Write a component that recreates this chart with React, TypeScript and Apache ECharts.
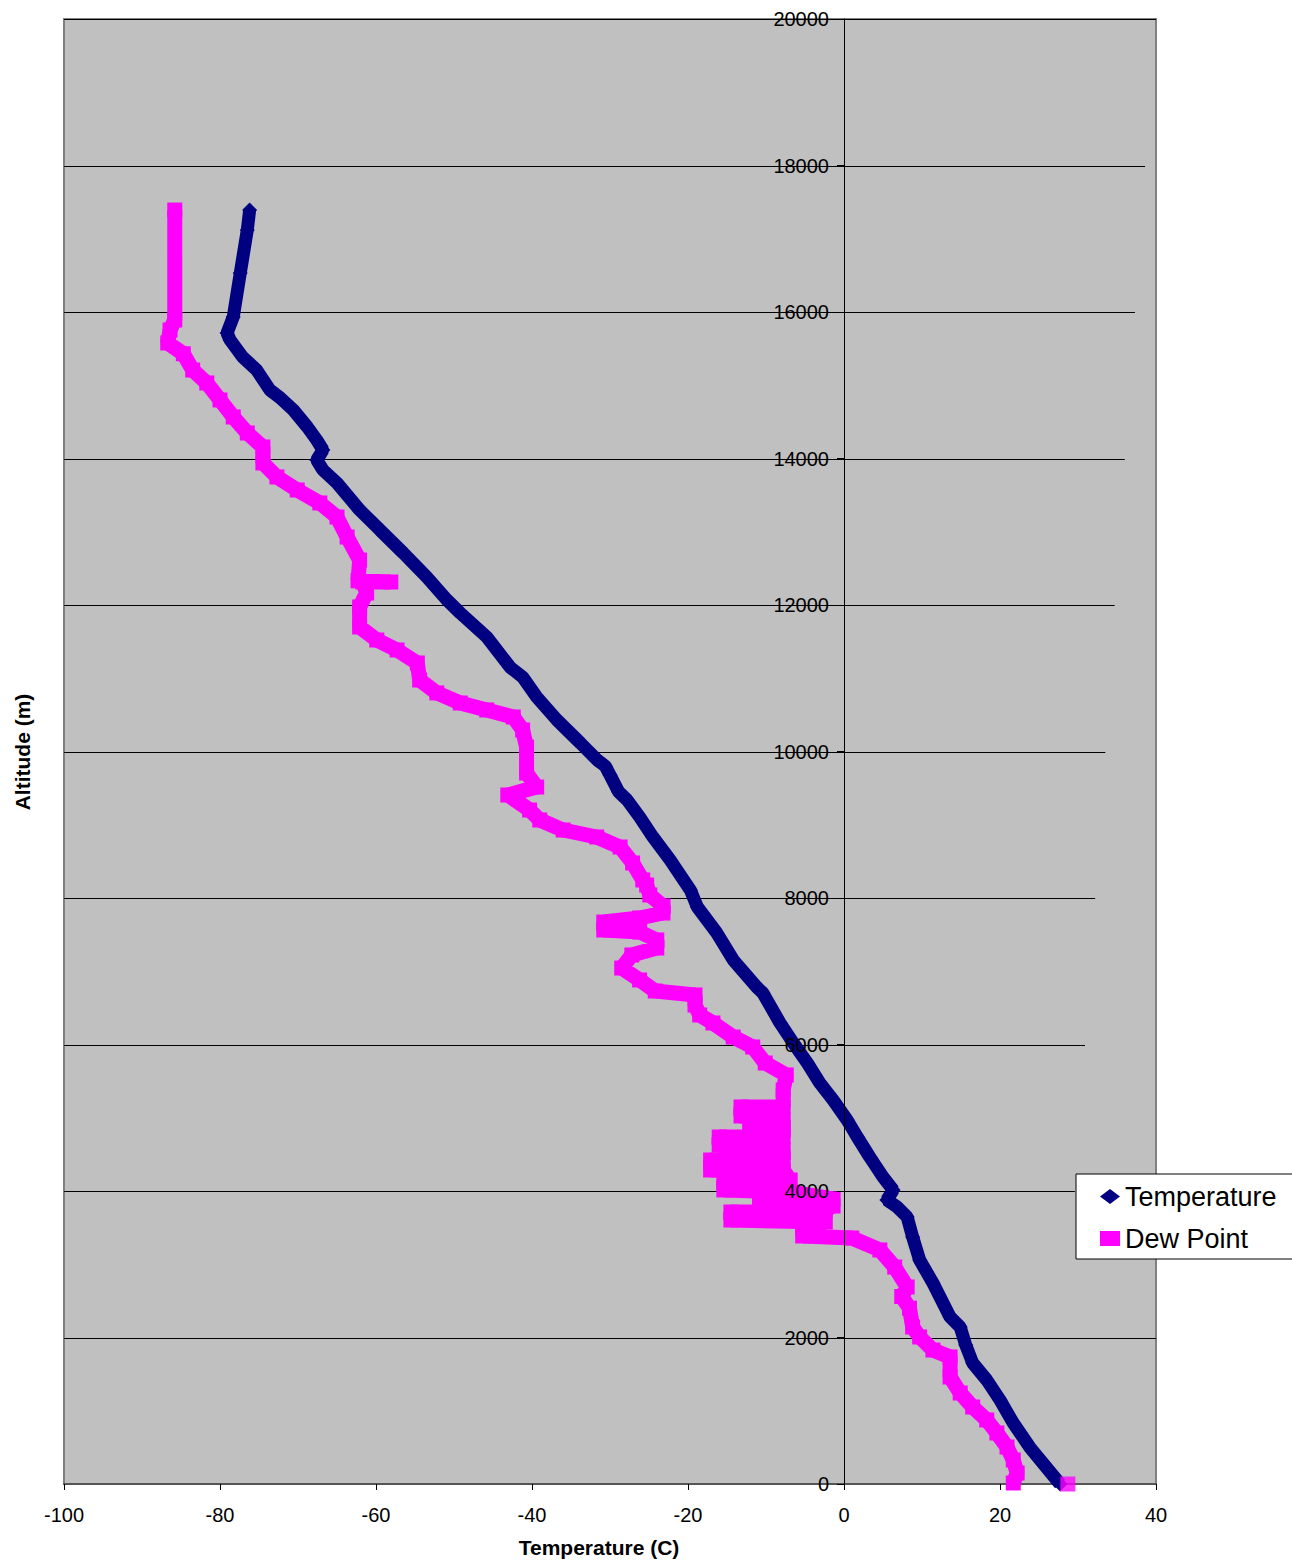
import { useEffect, useRef } from 'react';
import * as echarts from 'echarts';

// Axis ticks
const xMin = -100;
const xMax = 40;
const xStep = 20;
const yMin = 0;
const yMax = 20000;
const yStep = 2000;

// Temperature (C) vs altitude (m)
const temperature: [number, number][] = [
  [27.7, 0], [23.8, 505], [21.7, 833], [20.0, 1147], [18.3, 1420], [16.5, 1652],
  [15.6, 1898], [14.9, 2143], [13.6, 2280], [11.4, 2744], [9.7, 3058], [8.8, 3372],
  [8.1, 3645], [6.8, 3782], [5.5, 3877], [6.3, 4014], [5.0, 4191], [3.3, 4464],
  [1.7, 4737], [0.4, 4969], [-1.4, 5242], [-3.1, 5474], [-4.7, 5747], [-6.5, 6020],
  [-8.2, 6294], [-10.4, 6703], [-11.2, 6785], [-14.2, 7154], [-16.3, 7522], [-18.8, 7877],
  [-19.7, 8109], [-22.3, 8519], [-24.5, 8833], [-26.2, 9106], [-27.8, 9338], [-28.9, 9450],
  [-30.0, 9680], [-30.6, 9800], [-31.6, 9880], [-33.8, 10116], [-36.8, 10430], [-39.4, 10744],
  [-41.2, 11017], [-42.8, 11150], [-45.8, 11563], [-49.2, 11891], [-50.9, 12068], [-53.5, 12382],
  [-56.5, 12710], [-59.5, 13024], [-62.1, 13297], [-65.0, 13666], [-66.8, 13843], [-67.6, 13980],
  [-66.8, 14116], [-67.6, 14253], [-68.8, 14430], [-70.6, 14662], [-72.3, 14830], [-73.6, 14935],
  [-75.3, 15208], [-77.1, 15386], [-78.7, 15618], [-79.1, 15713], [-78.3, 15932], [-77.4, 16532],
  [-76.5, 17119], [-76.2, 17392],
];

// Dew point (C) vs altitude (m)
const dewPoint: [number, number][] = [
  [21.7, 14], [22.2, 150], [21.7, 328], [20.9, 505], [19.6, 696], [18.3, 874],
  [16.5, 1051], [14.9, 1242], [13.6, 1461], [13.6, 1734], [11.4, 1829], [9.7, 2007],
  [8.8, 2143], [8.4, 2400], [7.4, 2560], [8.1, 2689], [6.5, 2962], [4.6, 3195],
  [1.0, 3358], [-5.3, 3386], [-5.3, 3522], [-2.4, 3577], [-14.5, 3604], [-14.5, 3713],
  [-2.4, 3741], [-1.4, 3795], [-10.8, 3795], [-10.8, 3891], [-1.4, 3891], [-6.9, 3986],
  [-15.4, 4014], [-15.4, 4150], [-6.9, 4150], [-7.8, 4287], [-17.1, 4287], [-17.1, 4423],
  [-7.8, 4423], [-7.8, 4560], [-16.0, 4628], [-16.0, 4737], [-7.8, 4737], [-7.8, 4874],
  [-12.1, 4874], [-7.8, 4969], [-13.2, 5024], [-13.2, 5147], [-7.8, 5147], [-7.8, 5379],
  [-7.4, 5584], [-10.1, 5747], [-11.7, 5966], [-14.2, 6102], [-16.8, 6294], [-18.5, 6403],
  [-19.1, 6539], [-19.1, 6676], [-24.2, 6730], [-26.2, 6881], [-28.5, 7044], [-27.2, 7222],
  [-24.0, 7317], [-24.0, 7427], [-26.2, 7536], [-30.8, 7563], [-30.8, 7672], [-26.2, 7727],
  [-23.2, 7795], [-23.2, 7891], [-24.9, 8041], [-25.3, 8177], [-25.8, 8246], [-27.1, 8478],
  [-28.7, 8696], [-31.7, 8833], [-36.0, 8928], [-39.0, 9065], [-40.3, 9201], [-43.1, 9406],
  [-39.4, 9515], [-40.7, 9706], [-40.7, 10061], [-41.2, 10294], [-42.4, 10471], [-45.8, 10567],
  [-49.2, 10662], [-52.2, 10799], [-54.4, 10976], [-54.7, 11208], [-57.3, 11386], [-59.9, 11522],
  [-62.1, 11700], [-62.1, 11973], [-61.2, 12164], [-61.7, 12314], [-58.1, 12314], [-62.3, 12330],
  [-62.1, 12614], [-63.7, 12928], [-65.0, 13201], [-67.2, 13393], [-70.1, 13570], [-72.7, 13748],
  [-74.5, 13939], [-74.5, 14157], [-76.5, 14348], [-78.3, 14567], [-80.0, 14799], [-81.7, 15031],
  [-83.5, 15208], [-84.7, 15430], [-86.7, 15577], [-86.4, 15754], [-85.8, 15891], [-85.8, 17392],
];

// Isolated surface reading of the dew point series
const dewPointSurface: [number, number][] = [[28.7, 0]];

// Horizontal gridlines (altitude) and where each one stops on the temperature axis
const gridAltitudes = [2000, 4000, 6000, 8000, 10000, 12000, 14000, 16000, 18000, 20000];
const gridLineEnds = [40, 29.6, 30.9, 32.2, 33.5, 34.7, 36.0, 37.3, 38.6, 40];

const legendItems = ['Temperature', 'Dew Point'];
const xTitle = 'Temperature (C)';
const yTitle = 'Altitude (m)';

const FONT = "'Liberation Sans', Arial, sans-serif";

const GRID_LEFT = 64;
const GRID_RIGHT = 136;
const CHART_W = 1292;
const CHART_H = 1566;

export default function App() {
  const ref = useRef<HTMLDivElement>(null);

  useEffect(() => {
    document.body.style.margin = '0';
    const chart = echarts.init(ref.current!, undefined, { renderer: 'svg' });
    // the vertical axis sits where temperature = 0
    const plotW = CHART_W - GRID_LEFT - GRID_RIGHT;
    const yAxisShift = ((0 - xMin) / (xMax - xMin)) * plotW;
    chart.setOption({
      animation: false,
      backgroundColor: '#ffffff',
      textStyle: { fontFamily: FONT },
      grid: {
        left: GRID_LEFT,
        right: GRID_RIGHT,
        top: 19,
        bottom: 82,
        containLabel: false,
        outerBoundsMode: 'none',
        show: true,
        backgroundColor: '#C0C0C0',
        borderColor: '#808080',
        borderWidth: 2,
      },
      xAxis: {
        type: 'value',
        min: xMin,
        max: xMax,
        interval: xStep,
        axisLine: { show: true, onZero: false, lineStyle: { color: '#555555', width: 2 } },
        axisTick: { show: true, length: 6, lineStyle: { color: '#000000' } },
        axisLabel: { margin: 21, fontSize: 20, color: '#000000', fontFamily: FONT },
        splitLine: { show: false },
      },
      yAxis: {
        type: 'value',
        min: yMin,
        max: yMax,
        interval: yStep,
        position: 'left',
        offset: -yAxisShift,
        z: 10,
        axisLine: { show: true, onZero: false, lineStyle: { color: '#000000', width: 1 } },
        axisTick: { show: true, length: 7, lineStyle: { color: '#000000' } },
        axisLabel: {
          margin: 15,
          fontSize: 20,
          color: '#000000',
          fontFamily: FONT,
          formatter: (v: number) => String(v),
        },
        splitLine: { show: false },
      },
      legend: {
        data: [
          { name: legendItems[0], icon: 'diamond' },
          { name: legendItems[1], icon: 'rect' },
        ],
        orient: 'vertical',
        left: 1076,
        top: 1174,
        itemWidth: 20,
        itemHeight: 15,
        itemGap: 15,
        padding: [9, 20, 7, 24],
        backgroundColor: '#ffffff',
        borderColor: '#000000',
        borderWidth: 1,
        selectedMode: false,
        textStyle: { fontSize: 27, lineHeight: 26, color: '#000000', fontFamily: FONT },
      },
      graphic: [
        {
          type: 'text',
          x: 599,
          y: 1547,
          style: {
            text: xTitle,
            font: `bold 21px ${FONT}`,
            fill: '#000000',
            textAlign: 'center',
            textVerticalAlign: 'middle',
          },
        },
        {
          type: 'text',
          x: 22,
          y: 752,
          rotation: Math.PI / 2,
          style: {
            text: yTitle,
            font: `bold 21px ${FONT}`,
            fill: '#000000',
            textAlign: 'center',
            textVerticalAlign: 'middle',
          },
        },
      ],
      series: [
        {
          type: 'custom',
          name: 'gridlines',
          silent: true,
          data: gridAltitudes.map((a, i) => [gridLineEnds[i], a]),
          encode: { x: 0, y: 1 },
          renderItem: (_params: any, api: any) => {
            const alt = api.value(1);
            const end = api.value(0);
            const p0 = api.coord([xMin, alt]);
            const p1 = api.coord([end, alt]);
            const y = Math.round(p0[1]) + 0.5;
            return {
              type: 'line',
              shape: { x1: p0[0], y1: y, x2: p1[0], y2: y },
              style: { stroke: '#000000', lineWidth: 1 },
            };
          },
          z: 1,
        },
        {
          type: 'line',
          name: legendItems[0],
          data: temperature,
          symbol: 'diamond',
          symbolSize: 15,
          showSymbol: true,
          lineStyle: { color: '#000080', width: 13, join: 'bevel' },
          itemStyle: { color: '#000080' },
          emphasis: { disabled: true },
          z: 3,
        },
        {
          type: 'line',
          name: legendItems[1],
          data: dewPoint,
          symbol: 'rect',
          symbolSize: 15,
          showSymbol: true,
          lineStyle: { color: '#FF00FF', width: 15, join: 'bevel' },
          itemStyle: { color: '#FF00FF' },
          emphasis: { disabled: true },
          z: 4,
        },
        {
          type: 'scatter',
          name: legendItems[1],
          data: dewPointSurface,
          symbol: 'rect',
          symbolSize: 15,
          itemStyle: { color: '#FF00FF' },
          emphasis: { disabled: true },
          z: 4,
        },
      ],
    });
    return () => chart.dispose();
  }, []);

  return <div ref={ref} style={{ width: CHART_W, height: CHART_H }} />;
}
